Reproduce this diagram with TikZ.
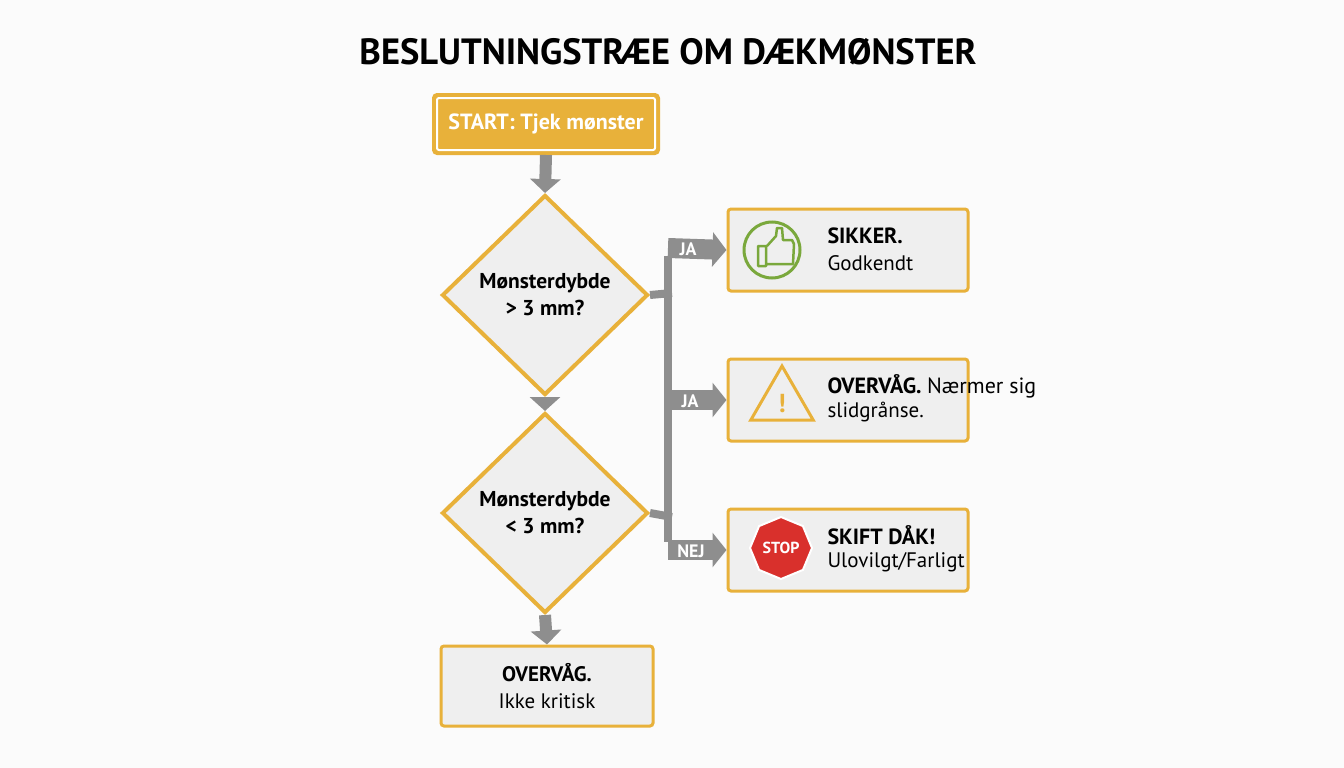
\documentclass[tikz,border=0pt]{standalone}
\usepackage{fontspec}
\setmainfont{PT Sans}
\usetikzlibrary{shapes.geometric,arrows.meta}
\definecolor{ylw}{HTML}{E8B13A}
\definecolor{gry}{HTML}{8E8E8E}
\definecolor{boxf}{HTML}{EFEFEF}
\definecolor{grn}{HTML}{7AA83C}
\definecolor{stopred}{HTML}{D9302C}
\tikzset{
 res/.style={draw=ylw,line width=3pt,fill=boxf,rounded corners=3pt,minimum width=240pt,minimum height=82pt},
 dia/.style={diamond,draw=ylw,line width=4pt,fill=boxf,minimum width=206pt,minimum height=200pt,align=center,font=\bfseries\fontsize{21.5}{27}\selectfont,inner sep=0pt},
 flow/.style={draw=gry,line width=8pt},
 farr/.style={draw=gry,line width=12pt,-{Triangle[length=14pt,width=30pt]}},
 barr/.style={draw=gry,line width=20pt,-{Triangle[length=14pt,width=34pt]}},
 lbl/.style={text=white,font=\bfseries\fontsize{18}{20}\selectfont,inner sep=0pt},
 big/.style={font=\bfseries\fontsize{22}{26}\selectfont,anchor=west},
 small/.style={font=\fontsize{21}{25}\selectfont,anchor=west}
}
\begin{document}
\begin{tikzpicture}[x=1pt,y=-1pt]
\fill[white!97!gray] (0,0) rectangle (1344,768);
\useasboundingbox (0,0) rectangle (1344,768);
\node (title) at (668,52) {\bfseries\fontsize{36.5}{44}\selectfont BESLUTNINGSTRÆE OM DÆKMØNSTER};
\node[draw=ylw,fill=ylw,line width=2pt,rounded corners=4pt,minimum width=226pt,minimum height=60pt,text=white,font=\bfseries\fontsize{22}{26}\selectfont] (start) at (546,124) {START: Tjek mønster};
\draw[white,line width=2pt,rounded corners=2pt] ([shift={(5,-5)}]start.south west) rectangle ([shift={(-5,5)}]start.north east);
\node[dia] (d1) at (545,295) {Mønsterdybde\\ > 3 mm?};
\node[dia] (d2) at (545,513) {Mønsterdybde\\ < 3 mm?};
\node[draw=ylw,line width=3pt,fill=boxf,rounded corners=3pt,minimum width=212pt,minimum height=80pt,align=center,font=\fontsize{21}{27}\selectfont] (ok) at (547,686) {\textbf{OVERVÅG.}\\Ikke kritisk};
\node[res] (r1) at (848,250) {};
\node[res] (r2) at (848,400) {};
\node[res] (r3) at (848,550) {};
\draw[farr] (start.south) -- (d1.north);
\draw[farr] (d1.south) -- (d2.north);
\draw[farr] (d2.south) -- (ok.north);
\coordinate (t1) at (668,248);
\coordinate (t2) at (668,400);
\coordinate (t3) at (668,550);
\coordinate (j1) at (672,293);
\coordinate (j2) at (672,517);
\draw[flow] (d1.east) -- (j1);
\draw[flow] (d2.east) -- (j2);
\draw[flow] ([yshift=-8pt]t1) -- ([yshift=8pt]t3);
\draw[barr] (t1) -- (r1.west);
\draw[barr] (t2) -- (r2.west);
\draw[barr] (t3) -- (r3.west);
\node[lbl] (l1) at (688,249) {JA};
\node[lbl] (l2) at (690,401) {JA};
\node[lbl] (l3) at (691,551) {NEJ};
% icons
\node[circle,draw=grn,line width=3pt,minimum size=56pt] (ic1) at (772,250) {};
\draw[grn,line width=2.5pt,line join=round] (758,246) rectangle (766,266)
 (767,246) -- (776,236) -- (777,228) -- (782,228) -- (783,240) -- (792,240) -- (794,244) -- (793,264) -- (767,264);
\node[regular polygon,regular polygon sides=3,draw=ylw,line width=3pt,minimum size=72pt,inner sep=0pt] (ic2) at (782,402) {};
\node[text=ylw,font=\bfseries\fontsize{26}{26}\selectfont] at (782,404) {!};
\node[regular polygon,regular polygon sides=8,fill=stopred,draw=white,line width=2pt,minimum size=62pt,inner sep=0pt,shape border rotate=22.5] (ic3) at (781,548) {};
\node[text=white,font=\bfseries\fontsize{16}{16}\selectfont] at (ic3) {STOP};
\node[big] at (824,236) {SIKKER.};
\node[small] at (824,263) {Godkendt};
\node[big] at (824,386) {OVERVÅG. \mdseries Nærmer sig};
\node[small] at (824,412) {slidgrånse.};
\node[big] at (824,535) {SKIFT DÅK!};
\node[small] at (824,562) {Ulovilgt/Farligt};
\end{tikzpicture}
\end{document}
